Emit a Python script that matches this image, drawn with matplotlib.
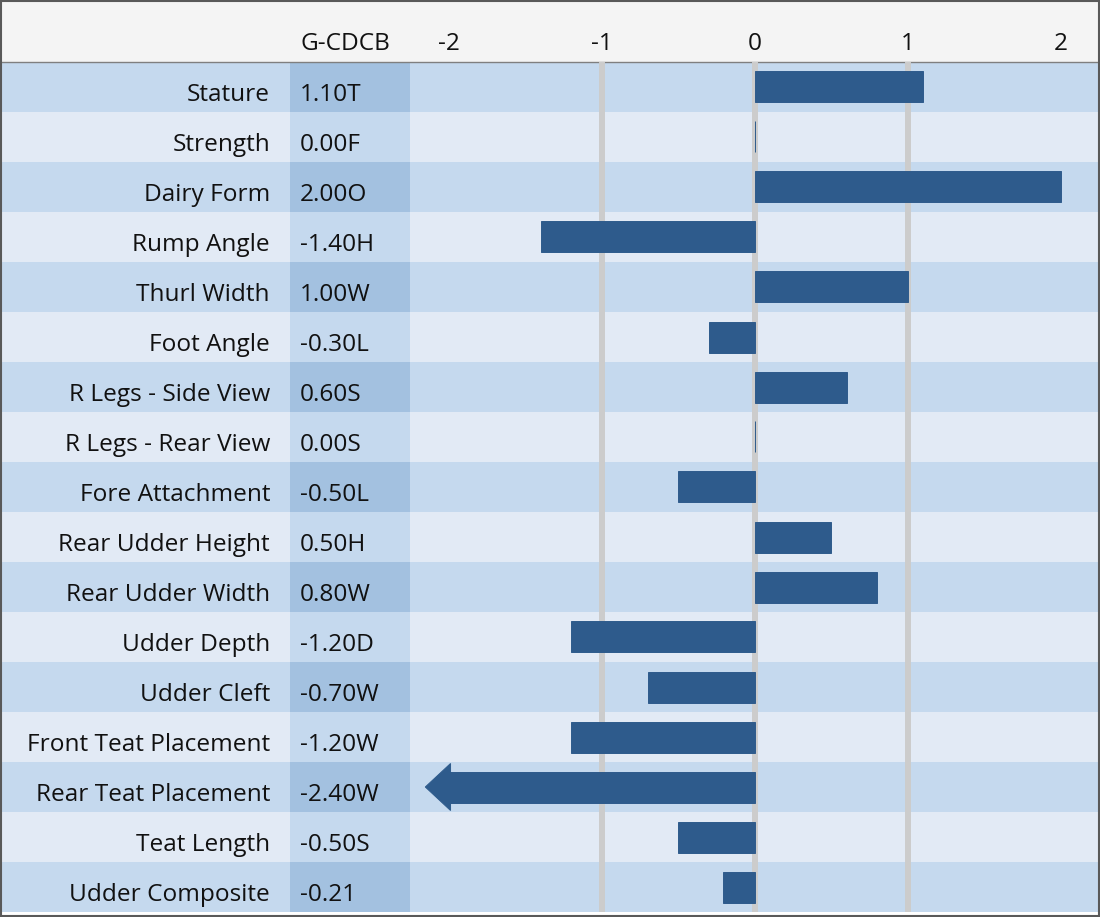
import matplotlib
matplotlib.use("Agg")
import matplotlib.pyplot as plt
from matplotlib.patches import Rectangle, Polygon
from matplotlib.transforms import blended_transform_factory

# ---------------- data ----------------
traits = ["Stature", "Strength", "Dairy Form", "Rump Angle", "Thurl Width",
          "Foot Angle", "R Legs - Side View", "R Legs - Rear View",
          "Fore Attachment", "Rear Udder Height", "Rear Udder Width",
          "Udder Depth", "Udder Cleft", "Front Teat Placement",
          "Rear Teat Placement", "Teat Length", "Udder Composite"]
values = [1.10, 0.00, 2.00, -1.40, 1.00, -0.30, 0.60, 0.00, -0.50, 0.50,
          0.80, -1.20, -0.70, -1.20, -2.40, -0.50, -0.21]
value_labels = ["1.10T", "0.00F", "2.00O", "-1.40H", "1.00W", "-0.30L",
                "0.60S", "0.00S", "-0.50L", "0.50H", "0.80W", "-1.20D",
                "-0.70W", "-1.20W", "-2.40W", "-0.50S", "-0.21"]
column_title = "G-CDCB"
tick_values = [-2, -1, 0, 1, 2]
grid_values = [-1, 0, 1]

# ---------------- style ----------------
W, H = 1100, 917
FONT = ["Open Sans", "DejaVu Sans"]
FS = 17.6
HEADER_H = 62
ROW_H = 50
COL_X0, COL_X1 = 290, 410
PLOT_X1 = 1098
DARK_ROW, LIGHT_ROW = "#c5d9ee", "#e2eaf5"
DARK_COL, LIGHT_COL = "#a3c1e0", "#c5d9ee"
BAR = "#2e5b8c"
GRID = "#cccccc"
XMIN, XMAX = -2.255, 2.242
CLIP = -2.0

fig = plt.figure(figsize=(W / 100, H / 100), dpi=100)
fig.patch.set_facecolor("white")

bg = fig.add_axes([0, 0, 1, 1])
bg.set_xlim(0, W)
bg.set_ylim(H, 0)
bg.axis("off")

n = len(traits)
bg.add_patch(Rectangle((0, 0), W, HEADER_H, facecolor="#f4f4f4", edgecolor="none"))
for i in range(n):
    y0 = HEADER_H + i * ROW_H
    dark = (i % 2 == 0)
    bg.add_patch(Rectangle((0, y0), W, ROW_H, facecolor=DARK_ROW if dark else LIGHT_ROW,
                           edgecolor="none"))
    bg.add_patch(Rectangle((COL_X0, y0), COL_X1 - COL_X0, ROW_H,
                           facecolor=DARK_COL if dark else LIGHT_COL, edgecolor="none"))
    bg.text(270, y0 + 39, traits[i], ha="right", va="baseline", fontsize=FS,
            family=FONT, color="#111111")
    bg.text(300, y0 + 39, value_labels[i], ha="left", va="baseline", fontsize=FS,
            family=FONT, color="#111111")

bg.plot([0, W], [HEADER_H - 0.5, HEADER_H - 0.5], color="#7f7f7f", lw=1.0)
bg.text(300, 50, column_title, ha="left", va="baseline", fontsize=FS, family=FONT,
        color="#111111")

# ---------------- bar axes ----------------
ax = fig.add_axes([COL_X1 / W, (H - HEADER_H - n * ROW_H) / H,
                   (PLOT_X1 - COL_X1) / W, n * ROW_H / H])
ax.set_facecolor("none")
ax.set_xlim(XMIN, XMAX)
ax.set_ylim(n - 0.5, -0.5)
for s in ax.spines.values():
    s.set_visible(False)
ax.set_xticks([])
ax.set_yticks([])

for g in grid_values:
    ax.axvline(g, color=GRID, lw=4.3, zorder=1)

ypos = list(range(n))
bar_vals = [v if v >= CLIP else CLIP for v in values]
ax.barh(ypos, bar_vals, height=0.62, color=BAR, edgecolor=BAR, linewidth=0.7, zorder=3)

# arrow heads for values beyond the axis
for y, v in zip(ypos, values):
    if v < CLIP:
        tip = XMIN + 0.10
        ax.add_patch(Polygon([(CLIP + 0.01, y - 0.47), (CLIP + 0.01, y + 0.47), (tip, y)],
                             closed=True, facecolor=BAR, edgecolor=BAR, lw=0.7, zorder=3))

# header tick labels aligned with data scale
trans = blended_transform_factory(ax.transData, bg.transData)
for t in tick_values:
    bg.text(t, 50, f"{t}", transform=trans, ha="center", va="baseline", fontsize=FS,
            family=FONT, color="#111111")

# outer border
bg.add_patch(Rectangle((1, 1), W - 2, H - 2, facecolor="none", edgecolor="#595959",
                       lw=1.5, zorder=10))

fig.savefig("out.png", dpi=100)
